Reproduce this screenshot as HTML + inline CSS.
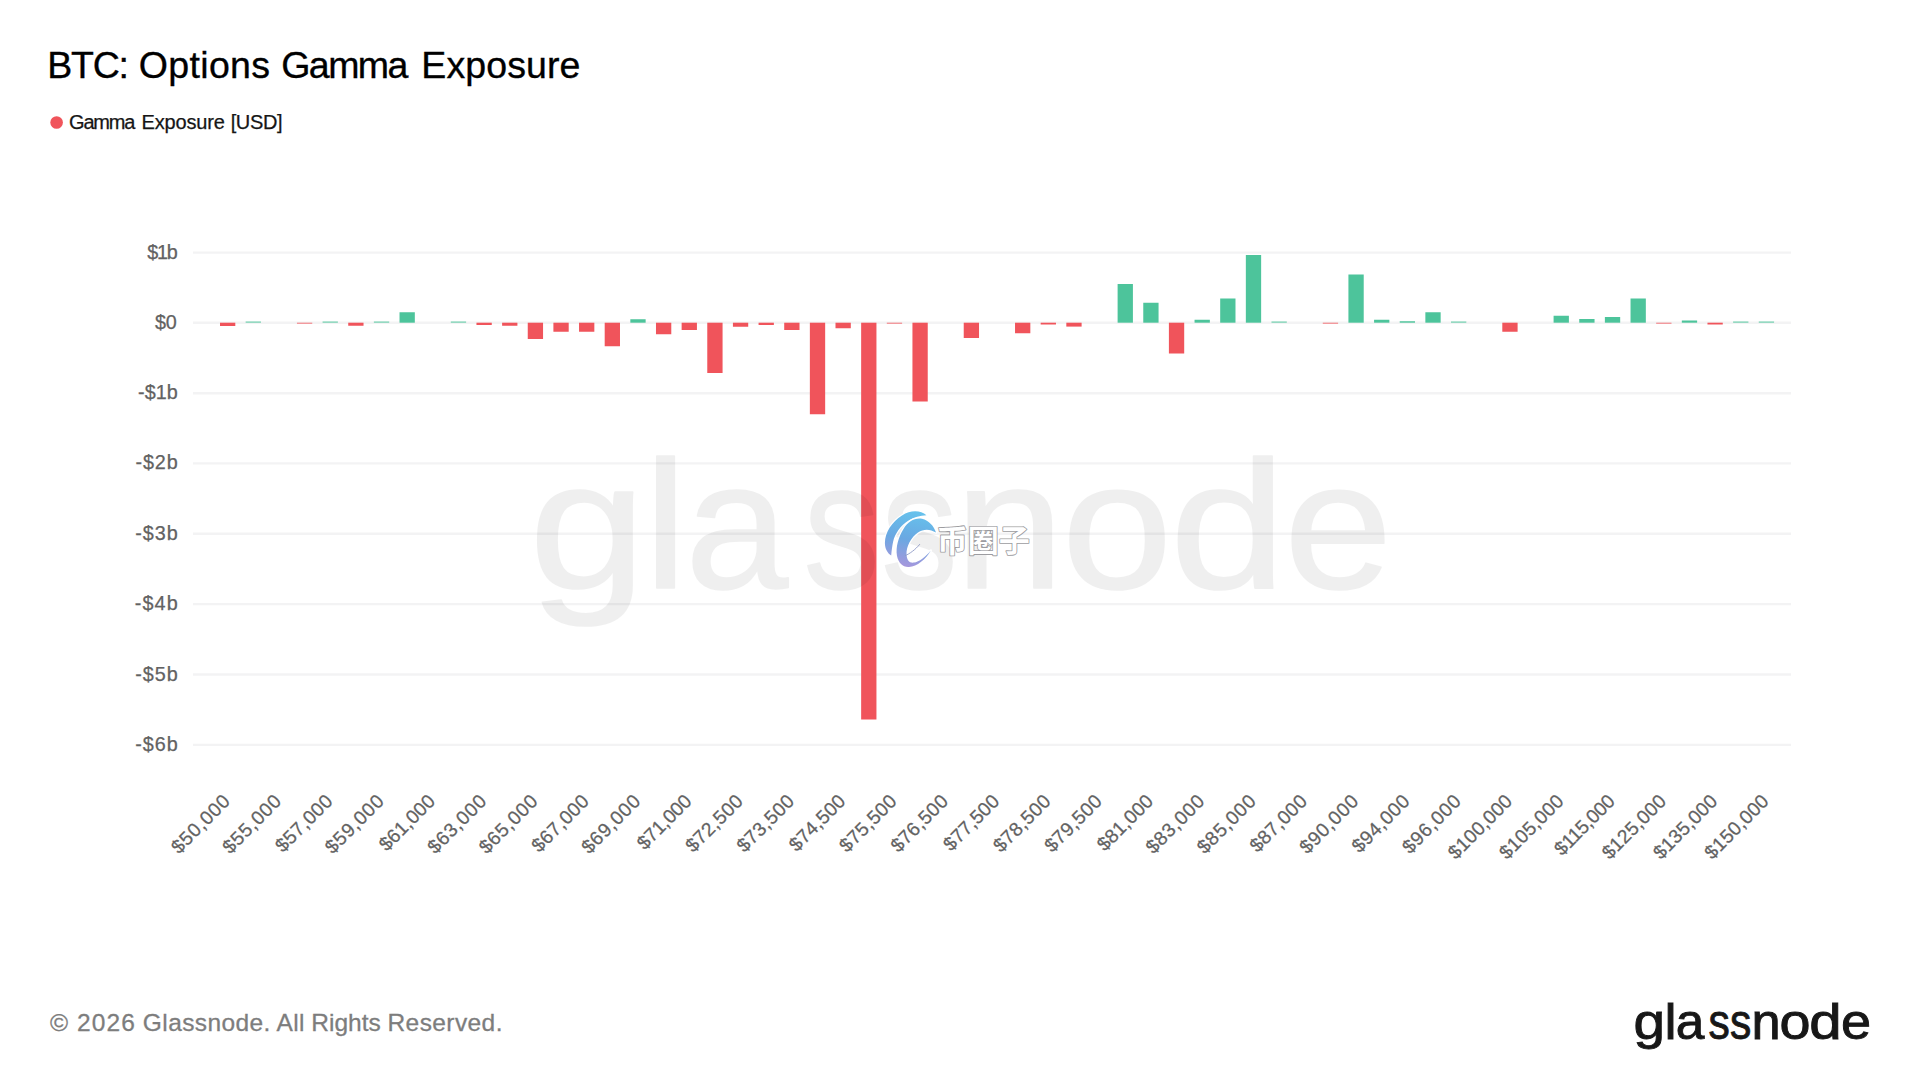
<!DOCTYPE html>
<html lang="en">
<head>
<meta charset="utf-8">
<title>BTC: Options Gamma Exposure</title>
<style>
html,body{margin:0;padding:0;background:#fff;}
body{width:1920px;height:1080px;overflow:hidden;}
svg{display:block;}
text{font-family:"Liberation Sans", "Noto Sans CJK SC", sans-serif;white-space:pre;}
</style>
</head>
<body>
<svg width="1920" height="1080" viewBox="0 0 1920 1080">
<defs>
<linearGradient id="sw" gradientUnits="userSpaceOnUse" x1="915" y1="511" x2="905" y2="568">
<stop offset="0" stop-color="#66c2ec"/>
<stop offset="0.5" stop-color="#6aa8e2"/>
<stop offset="1" stop-color="#a996dc"/>
</linearGradient>
</defs>
<rect x="0" y="0" width="1920" height="1080" fill="#ffffff"/>
<g stroke="#f3f3f4" stroke-width="2.4">
<line x1="193" y1="252.60" x2="1791" y2="252.60"/>
<line x1="193" y1="322.80" x2="1791" y2="322.80"/>
<line x1="193" y1="393.20" x2="1791" y2="393.20"/>
<line x1="193" y1="463.40" x2="1791" y2="463.40"/>
<line x1="193" y1="533.80" x2="1791" y2="533.80"/>
<line x1="193" y1="604.10" x2="1791" y2="604.10"/>
<line x1="193" y1="674.50" x2="1791" y2="674.50"/>
<line x1="193" y1="744.90" x2="1791" y2="744.90"/>
</g>
<g>
<rect x="220.00" y="322.70" width="15.3" height="3.30" fill="#f0545b"/>
<rect x="245.65" y="321.50" width="15.3" height="1.20" fill="#4dc49b" opacity="0.8"/>
<rect x="296.94" y="322.70" width="15.3" height="1.00" fill="#f0545b" opacity="0.8"/>
<rect x="322.58" y="321.50" width="15.3" height="1.20" fill="#4dc49b" opacity="0.8"/>
<rect x="348.23" y="322.70" width="15.3" height="3.05" fill="#f0545b"/>
<rect x="373.88" y="321.50" width="15.3" height="1.20" fill="#4dc49b" opacity="0.8"/>
<rect x="399.52" y="312.25" width="15.3" height="10.45" fill="#4dc49b"/>
<rect x="450.81" y="321.50" width="15.3" height="1.20" fill="#4dc49b" opacity="0.8"/>
<rect x="476.46" y="322.70" width="15.3" height="2.30" fill="#f0545b"/>
<rect x="502.11" y="322.70" width="15.3" height="3.05" fill="#f0545b"/>
<rect x="527.75" y="322.70" width="15.3" height="16.30" fill="#f0545b"/>
<rect x="553.40" y="322.70" width="15.3" height="9.05" fill="#f0545b"/>
<rect x="579.04" y="322.70" width="15.3" height="9.05" fill="#f0545b"/>
<rect x="604.69" y="322.70" width="15.3" height="23.55" fill="#f0545b"/>
<rect x="630.34" y="319.25" width="15.3" height="3.45" fill="#4dc49b"/>
<rect x="655.98" y="322.70" width="15.3" height="11.55" fill="#f0545b"/>
<rect x="681.63" y="322.70" width="15.3" height="7.30" fill="#f0545b"/>
<rect x="707.27" y="322.70" width="15.3" height="50.30" fill="#f0545b"/>
<rect x="732.92" y="322.70" width="15.3" height="4.05" fill="#f0545b"/>
<rect x="758.57" y="322.70" width="15.3" height="2.30" fill="#f0545b"/>
<rect x="784.21" y="322.70" width="15.3" height="7.30" fill="#f0545b"/>
<rect x="809.86" y="322.70" width="15.3" height="91.55" fill="#f0545b"/>
<rect x="835.50" y="322.70" width="15.3" height="5.55" fill="#f0545b"/>
<rect x="861.15" y="322.70" width="15.3" height="396.80" fill="#f0545b"/>
<rect x="886.80" y="322.70" width="15.3" height="1.00" fill="#f0545b" opacity="0.8"/>
<rect x="912.44" y="322.70" width="15.3" height="78.80" fill="#f0545b"/>
<rect x="963.73" y="322.70" width="15.3" height="15.30" fill="#f0545b"/>
<rect x="1015.03" y="322.70" width="15.3" height="10.55" fill="#f0545b"/>
<rect x="1040.67" y="322.70" width="15.3" height="1.80" fill="#f0545b"/>
<rect x="1066.32" y="322.70" width="15.3" height="3.90" fill="#f0545b"/>
<rect x="1117.61" y="284.00" width="15.3" height="38.70" fill="#4dc49b"/>
<rect x="1143.26" y="302.75" width="15.3" height="19.95" fill="#4dc49b"/>
<rect x="1168.90" y="322.70" width="15.3" height="30.80" fill="#f0545b"/>
<rect x="1194.55" y="319.75" width="15.3" height="2.95" fill="#4dc49b"/>
<rect x="1220.19" y="298.50" width="15.3" height="24.20" fill="#4dc49b"/>
<rect x="1245.84" y="255.00" width="15.3" height="67.70" fill="#4dc49b"/>
<rect x="1271.49" y="321.50" width="15.3" height="1.20" fill="#4dc49b" opacity="0.8"/>
<rect x="1322.78" y="322.70" width="15.3" height="1.00" fill="#f0545b" opacity="0.8"/>
<rect x="1348.42" y="274.50" width="15.3" height="48.20" fill="#4dc49b"/>
<rect x="1374.07" y="319.75" width="15.3" height="2.95" fill="#4dc49b"/>
<rect x="1399.72" y="321.25" width="15.3" height="1.45" fill="#4dc49b"/>
<rect x="1425.36" y="312.25" width="15.3" height="10.45" fill="#4dc49b"/>
<rect x="1451.01" y="321.50" width="15.3" height="1.20" fill="#4dc49b" opacity="0.8"/>
<rect x="1502.30" y="322.70" width="15.3" height="9.05" fill="#f0545b"/>
<rect x="1553.59" y="315.75" width="15.3" height="6.95" fill="#4dc49b"/>
<rect x="1579.24" y="319.00" width="15.3" height="3.70" fill="#4dc49b"/>
<rect x="1604.88" y="317.00" width="15.3" height="5.70" fill="#4dc49b"/>
<rect x="1630.53" y="298.50" width="15.3" height="24.20" fill="#4dc49b"/>
<rect x="1656.18" y="322.70" width="15.3" height="1.00" fill="#f0545b" opacity="0.8"/>
<rect x="1681.82" y="320.50" width="15.3" height="2.20" fill="#4dc49b"/>
<rect x="1707.47" y="322.70" width="15.3" height="1.80" fill="#f0545b"/>
<rect x="1733.11" y="321.50" width="15.3" height="1.20" fill="#4dc49b" opacity="0.8"/>
<rect x="1758.76" y="321.50" width="15.3" height="1.20" fill="#4dc49b" opacity="0.8"/>
</g>
<g opacity="0.058"><text y="588.0" font-size="181.0" fill="#000" stroke="#000" stroke-width="1.5" stroke-linejoin="round"><tspan x="529.11" textLength="117.22" lengthAdjust="spacingAndGlyphs">g</tspan><tspan x="643.60" textLength="44.08" lengthAdjust="spacingAndGlyphs">l</tspan><tspan x="685.21" textLength="103.01" lengthAdjust="spacingAndGlyphs">a</tspan><tspan x="803.62" textLength="76.14" lengthAdjust="spacingAndGlyphs">s</tspan><tspan x="881.31" textLength="76.47" lengthAdjust="spacingAndGlyphs">s</tspan><tspan x="954.71" textLength="109.32" lengthAdjust="spacingAndGlyphs">n</tspan><tspan x="1061.79" textLength="110.57" lengthAdjust="spacingAndGlyphs">o</tspan><tspan x="1169.76" textLength="116.39" lengthAdjust="spacingAndGlyphs">d</tspan><tspan x="1284.11" textLength="108.39" lengthAdjust="spacingAndGlyphs">e</tspan></text></g>
<g font-size="19.8" fill="#626262" stroke="#626262" stroke-width="0.25">
<text x="147.20" y="258.60" letter-spacing="-1.267">$1b</text>
<text x="155.00" y="328.80" letter-spacing="-0.131">$0</text>
<text x="138.08" y="399.20" letter-spacing="-0.003">-$1b</text>
<text x="135.48" y="469.40" letter-spacing="0.864">-$2b</text>
<text x="135.28" y="539.80" letter-spacing="0.931">-$3b</text>
<text x="134.68" y="610.10" letter-spacing="1.131">-$4b</text>
<text x="135.18" y="680.50" letter-spacing="0.964">-$5b</text>
<text x="135.18" y="750.90" letter-spacing="0.964">-$6b</text>
</g>
<g font-size="19.3" fill="#626262" stroke="#626262" stroke-width="0.25" text-anchor="end">
<text transform="translate(231.65,802.00) rotate(-45)" letter-spacing="0.700">$50,000</text>
<text transform="translate(282.94,802.00) rotate(-45)" letter-spacing="0.700">$55,000</text>
<text transform="translate(334.00,802.24) rotate(-45)" letter-spacing="0.367">$57,000</text>
<text transform="translate(385.53,802.00) rotate(-45)" letter-spacing="0.700">$59,000</text>
<text transform="translate(436.37,802.45) rotate(-45)" letter-spacing="0.067">$61,000</text>
<text transform="translate(488.11,802.00) rotate(-45)" letter-spacing="0.700">$63,000</text>
<text transform="translate(539.40,802.00) rotate(-45)" letter-spacing="0.700">$65,000</text>
<text transform="translate(590.46,802.24) rotate(-45)" letter-spacing="0.367">$67,000</text>
<text transform="translate(641.99,802.00) rotate(-45)" letter-spacing="0.700">$69,000</text>
<text transform="translate(692.59,802.68) rotate(-45)" letter-spacing="-0.267">$71,000</text>
<text transform="translate(744.33,802.24) rotate(-45)" letter-spacing="0.367">$72,500</text>
<text transform="translate(795.63,802.24) rotate(-45)" letter-spacing="0.367">$73,500</text>
<text transform="translate(846.77,802.39) rotate(-45)" letter-spacing="0.150">$74,500</text>
<text transform="translate(898.21,802.24) rotate(-45)" letter-spacing="0.367">$75,500</text>
<text transform="translate(949.50,802.24) rotate(-45)" letter-spacing="0.367">$76,500</text>
<text transform="translate(1000.56,802.47) rotate(-45)" letter-spacing="0.033">$77,500</text>
<text transform="translate(1052.09,802.24) rotate(-45)" letter-spacing="0.367">$78,500</text>
<text transform="translate(1103.38,802.24) rotate(-45)" letter-spacing="0.367">$79,500</text>
<text transform="translate(1154.46,802.45) rotate(-45)" letter-spacing="0.067">$81,000</text>
<text transform="translate(1206.20,802.00) rotate(-45)" letter-spacing="0.700">$83,000</text>
<text transform="translate(1257.49,802.00) rotate(-45)" letter-spacing="0.700">$85,000</text>
<text transform="translate(1308.55,802.24) rotate(-45)" letter-spacing="0.367">$87,000</text>
<text transform="translate(1360.07,802.00) rotate(-45)" letter-spacing="0.700">$90,000</text>
<text transform="translate(1411.21,802.15) rotate(-45)" letter-spacing="0.483">$94,000</text>
<text transform="translate(1462.66,802.00) rotate(-45)" letter-spacing="0.700">$96,000</text>
<text transform="translate(1513.57,802.38) rotate(-45)" letter-spacing="0.157">$100,000</text>
<text transform="translate(1564.86,802.38) rotate(-45)" letter-spacing="0.157">$105,000</text>
<text transform="translate(1615.77,802.77) rotate(-45)" letter-spacing="-0.386">$115,000</text>
<text transform="translate(1667.44,802.38) rotate(-45)" letter-spacing="0.157">$125,000</text>
<text transform="translate(1718.73,802.38) rotate(-45)" letter-spacing="0.157">$135,000</text>
<text transform="translate(1770.03,802.38) rotate(-45)" letter-spacing="0.157">$150,000</text>
</g>
<text y="77.5" font-size="37.5" fill="#000000" stroke="#000000" stroke-width="0.35"><tspan x="47.27" letter-spacing="-1.234">BTC:</tspan> <tspan x="138.74" letter-spacing="0.349">Options</tspan> <tspan x="281.24" letter-spacing="-1.559">Gamma</tspan> <tspan x="421.27" letter-spacing="0.104">Exposure</tspan></text>
<circle cx="56.6" cy="122.5" r="6.3" fill="#f0545b"/>
<text y="128.75" font-size="20.0" fill="#161616" stroke="#161616" stroke-width="0.25"><tspan x="69.06" letter-spacing="-1.178">Gamma</tspan> <tspan x="141.54" letter-spacing="-0.174">Exposure</tspan> <tspan x="230.65" letter-spacing="-0.352">[USD]</tspan></text>
<text y="1031.25" font-size="24.5" fill="#7d7d7d" stroke="#7d7d7d" stroke-width="0.3"><tspan x="50.00" letter-spacing="0.000">©</tspan> <tspan x="76.95" letter-spacing="1.179">2026</tspan> <tspan x="142.85" letter-spacing="0.392">Glassnode.</tspan> <tspan x="276.50" letter-spacing="0.319">All</tspan> <tspan x="311.19" letter-spacing="0.027">Rights</tspan> <tspan x="387.49" letter-spacing="0.414">Reserved.</tspan></text>
<text y="1038.9" font-size="49.5" fill="#171717" stroke="#171717" stroke-width="0.9"><tspan x="1633.43" textLength="31.56" lengthAdjust="spacingAndGlyphs">g</tspan><tspan x="1664.60" textLength="12.09" lengthAdjust="spacingAndGlyphs">l</tspan><tspan x="1675.89" textLength="28.58" lengthAdjust="spacingAndGlyphs">a</tspan><tspan x="1708.53" textLength="21.30" lengthAdjust="spacingAndGlyphs">s</tspan><tspan x="1730.03" textLength="21.30" lengthAdjust="spacingAndGlyphs">s</tspan><tspan x="1751.43" textLength="29.11" lengthAdjust="spacingAndGlyphs">n</tspan><tspan x="1779.46" textLength="31.00" lengthAdjust="spacingAndGlyphs">o</tspan><tspan x="1809.28" textLength="32.39" lengthAdjust="spacingAndGlyphs">d</tspan><tspan x="1841.11" textLength="30.08" lengthAdjust="spacingAndGlyphs">e</tspan></text>
<g id="bqz">
<g fill="url(#sw)" stroke="#ffffff" stroke-width="2.4" stroke-linejoin="round" paint-order="stroke">
<path d="M926.4 515.2 C921 510.5 911 509.5 902 515.5 C892 522 885 532 884.9 543 C885 549 887.5 553 891.2 555.6 C891.6 551 892.2 546 893.1 541.8 C894.8 533.8 900.5 525.6 908.6 520.5 C914 517 920 515.6 926.4 515.2 Z"/>
<path d="M936 532.6 C934 526 929 520.5 922 518.7 C915 517.5 908 521 903.5 529 C898.5 537 895.5 547 897 556 C898.5 563 903 567.5 909 567 C917 566.5 926 559 930.8 550.4 C925.5 557 919 561.6 914 562.6 C909.5 563.3 906.7 560.5 906.5 554 C906.3 546.5 911 537.2 918 532.4 C923.5 528.8 930 528.6 936 532.6 Z"/>
</g>
<path d="M919.7 544.4 C915 550 910 553.5 905.3 555.6" fill="none" stroke="#8f9ac6" stroke-width="0.9" stroke-linecap="round"/>
<text x="936.8" y="551.5" font-size="31" font-weight="700" fill="#ffffff" stroke="#9c9ca0" stroke-width="1.7" stroke-linejoin="round" paint-order="stroke">币圈子</text>
</g>
</svg>
</body>
</html>
